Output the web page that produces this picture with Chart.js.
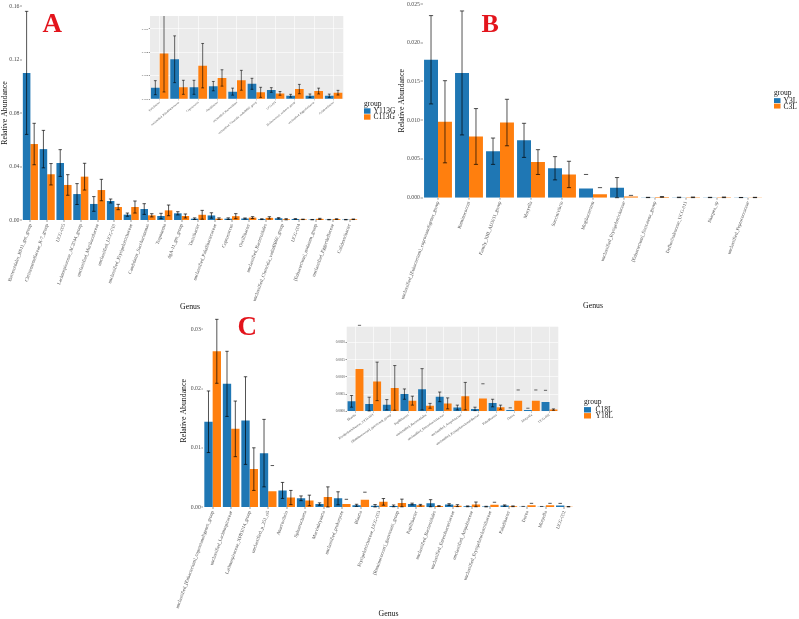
<!DOCTYPE html>
<html>
<head>
<meta charset="utf-8">
<script src="https://cdn.jsdelivr.net/npm/chart.js@4.4.0/dist/chart.umd.min.js"></script>
<style>
html,body{margin:0;padding:0;background:#fff;width:799px;height:619px;overflow:hidden;}
canvas{position:absolute;left:0;top:0;}
</style>
</head>
<body>
<canvas id="cA" width="799" height="619"></canvas>
<canvas id="cB" width="799" height="619"></canvas>
<canvas id="cC" width="799" height="619"></canvas>
<canvas id="cAi" width="799" height="619"></canvas>
<canvas id="cCi" width="799" height="619"></canvas>
<script>
// ---------------- DATA ----------------
// Panel A
const genusA = ["Bacteroidales_BS11_gut_group","Christensenellaceae_R-7_group","UCG-005","Lachnospiraceae_AC2044_group","unclassified_Muribaculaceae","unclassified_UCG-010","unclassified_Erysipelotrichaceae","Candidatus_Saccharimonas","Treponema","dgA-11_gut_group","Turicibacter","unclassified_Paludibacteraceae","Coprococcus","Oscillibacter","unclassified_Bacteroidales","unclassified_Clostridia_vadinBB60_group","UCG-004","[Eubacterium]_nodatum_group","unclassified_Eggerthellaceae","Colidextribacter"];
const groupsA = ["Y113G","C113G"];
const Y113G = [0.110,0.053,0.0426,0.0194,0.012,0.0142,0.004,0.0082,0.003,0.005,0.00097,0.0034,0.001,0.0011,0.00063,0.0013,0.00077,0.00028,0.00028,0.00028];
const Y113G_sd = [0.046,0.014,0.010,0.0078,0.0055,0.0015,0.0012,0.004,0.002,0.0012,0.0006,0.002,0.0006,0.0004,0.0003,0.00047,0.0002,0.00012,0.00015,0.00014];
const C113G = [0.0568,0.0342,0.0262,0.0324,0.0224,0.0097,0.0097,0.0035,0.0072,0.003,0.0039,0.001,0.00285,0.0018,0.0016,0.00057,0.00048,0.00085,0.00068,0.00054];
const C113G_sd = [0.0155,0.008,0.0077,0.010,0.008,0.002,0.0045,0.0012,0.004,0.0015,0.0033,0.0006,0.0019,0.0007,0.00085,0.00043,0.00016,0.0004,0.00025,0.0002];
const ticksA = [0,0.04,0.08,0.12,0.16];
const insetStartA = 10;
const ticksAinset = [0,0.002,0.004,0.006];

// Panel B
const genusB = ["unclassified_[Eubacterium]_coprostanoligenes_group","Ruminococcus","Family_XIII_AD3011_group","Moryella","Succinivibrio","Mogibacterium","unclassified_Erysipelotrichaceae","[Eubacterium]_fissicatena_group","Defluviitaleaceae_UCG-011","Sharpea_sp","unclassified_Peptococcaceae"];
const groupsB = ["Y3L","C3L"];
const Y3L = [0.0178,0.0161,0.0060,0.0074,0.0038,0.0012,0.0013,0.00003,0.00004,0.00003,0.00002];
const Y3L_sd = [0.0057,0.0080,0.0017,0.0022,0.0015,0,0.0013,0.00002,0.00003,0.00002,0.00001];
const Y3L_cap = [null,null,null,null,null,0.0030,null,null,null,null,null];
const C3L = [0.0098,0.0079,0.0097,0.0046,0.0030,0.00043,0.00017,0.0001,0.00005,0.00005,0.00003];
const C3L_sd = [0.0053,0.0036,0.0030,0.0016,0.0017,0,0,0.00005,0.00004,0.00004,0.00002];
const C3L_cap = [null,null,null,null,null,0.0013,0.0003,null,null,null,null];
const ticksB = [0,0.005,0.010,0.015,0.020,0.025];

// Panel C
const genusC = ["unclassified_[Eubacterium]_coprostanoligenes_group","unclassified_Lachnospiraceae","Lachnospiraceae_XPB1014_group","unclassified_p_251_o5","Anaerovibrio","Sphaerochaeta","Marvinbryantia","unclassified_prokaryote","Blautia","Erysipelotrichaceae_UCG-003","[Ruminococcus]_gauvreauii_group","Papillibacter","unclassified_Bacteroidales","unclassified_Enterobacteriaceae","unclassified_Atopobiaceae","unclassified_Erysipelatoclostridiaceae","Paludibacter","Dorea","Moryella","UCG-002"];
const groupsC = ["C18L","Y18L"];
const C18L = [0.0144,0.0208,0.0146,0.0091,0.0028,0.00147,0.0005,0.00147,0.00029,0.00021,0.00019,0.0005,0.00064,0.00042,0.00011,0.00007,0.00024,0.00004,0.00004,0.00027];
const C18L_sd = [0.0052,0.0055,0.0074,0.0057,0.00135,0.0004,0.0002,0.0011,0.00017,0.0002,0.00015,0.00015,0.0006,0.00014,0.00007,0.00005,0.00011,0,0,0];
const C18L_cap = [null,null,null,null,null,null,null,null,null,null,null,null,null,null,null,null,null,0.0001,0.00009,0.00061];
const Y18L = [0.0263,0.0132,0.0064,0.00265,0.0016,0.0011,0.0017,0.0005,0.00123,0.00087,0.00068,0.00031,0.00016,0.00023,0.00044,0.00037,0.00012,0.00031,0.00031,0.00005];
const Y18L_sd = [0.0054,0.0047,0.0036,0,0.0012,0.0009,0.0017,0,0,0.00056,0.00065,0.00013,0.00007,0.00016,0.0004,0,0.00006,0,0,0.00002];
const Y18L_cap = [null,null,null,0.0070,null,null,null,0.0013,0.0025,null,null,null,null,null,null,0.0008,null,0.00062,0.00062,null];
const ticksC = [0,0.01,0.02,0.03];
const insetStartC = 8;
const ticksCinset = [0,0.0005,0.0010,0.0015,0.0020];

// ---------------- STYLE ----------------
const FONT = "'Liberation Serif', 'Times New Roman', serif";
const BLUE = '#1f77b4', ORANGE = '#ff7f0e';
const W = 799, H = 619;

// ---------------- PLUGINS ----------------
const panelBg = {
  id: 'panelBg',
  beforeDraw(chart, args, o) {
    if (!o || !o.color) return;
    const a = chart.chartArea, ctx = chart.ctx;
    ctx.save(); ctx.fillStyle = o.color;
    ctx.fillRect(a.left, a.top, a.right - a.left, a.bottom - a.top);
    ctx.restore();
  }
};
const errBars = {
  id: 'errBars',
  afterDatasetsDraw(chart, args, o) {
    const ctx = chart.ctx, ys = chart.scales.y, a = chart.chartArea;
    ctx.save();
    if (o.clip) { ctx.beginPath(); ctx.rect(a.left, a.top, a.right - a.left, a.bottom - a.top); ctx.clip(); }
    ctx.strokeStyle = o.color; ctx.lineWidth = o.width;
    const hw = o.cap / 2;
    chart.data.datasets.forEach((ds, i) => {
      const meta = chart.getDatasetMeta(i);
      meta.data.forEach((bar, j) => {
        const v = ds.data[j];
        const e = ds.errors ? ds.errors[j] : 0;
        const x = bar.x;
        if (e) {
          const yt = ys.getPixelForValue(v + e);
          const yb = ys.getPixelForValue(Math.max(v - e, 0));
          ctx.beginPath();
          ctx.moveTo(x, yt); ctx.lineTo(x, yb);
          ctx.moveTo(x - hw, yt); ctx.lineTo(x + hw, yt);
          ctx.moveTo(x - hw, yb); ctx.lineTo(x + hw, yb);
          ctx.stroke();
        }
        const c = ds.caps ? ds.caps[j] : null;
        if (c != null) {
          const yc = ys.getPixelForValue(c);
          ctx.beginPath(); ctx.moveTo(x - hw, yc); ctx.lineTo(x + hw, yc); ctx.stroke();
        }
      });
    });
    ctx.restore();
  }
};
const ggLegend = {
  id: 'ggLegend',
  afterDraw(chart, args, o) {
    if (!o || !o.display) return;
    const ctx = chart.ctx, a = chart.chartArea;
    const n = chart.data.datasets.length;
    const x = a.right + o.dx;
    const cy = (a.top + a.bottom) / 2 + o.dy;
    const y0 = cy - n * o.keyH / 2;
    ctx.save();
    ctx.font = o.size + 'px ' + FONT;
    ctx.fillStyle = '#111';
    ctx.textAlign = 'left'; ctx.textBaseline = 'alphabetic';
    ctx.fillText(o.title, x, y0 - o.titleGap);
    ctx.textBaseline = 'middle';
    chart.data.datasets.forEach((ds, i) => {
      ctx.fillStyle = ds.backgroundColor;
      ctx.fillRect(x, y0 + i * o.keyH + 0.3, o.keyW, o.keyH - 0.6);
      ctx.fillStyle = '#111';
      ctx.fillText(ds.label, x + o.keyW + o.textGap, y0 + (i + 0.5) * o.keyH + 0.5);
    });
    ctx.restore();
  }
};
const panelLetter = {
  id: 'panelLetter',
  afterDraw(chart, args, o) {
    if (!o || !o.text) return;
    const ctx = chart.ctx;
    ctx.save();
    ctx.font = 'bold ' + o.size + 'px ' + FONT;
    ctx.fillStyle = o.color; ctx.textAlign = 'left'; ctx.textBaseline = 'alphabetic';
    ctx.fillText(o.text, o.x, o.y);
    ctx.restore();
  }
};

// ---------------- BUILDER ----------------
function makeChart(id, g) {
  const dec = g.yDec;
  const tickArr = g.yTicks;
  return new Chart(document.getElementById(id), {
    type: 'bar',
    data: {
      labels: g.labels,
      datasets: g.series.map(s => ({
        label: s.label, data: s.data, errors: s.err, caps: s.caps,
        backgroundColor: s.color, borderWidth: 0,
        categoryPercentage: 0.9, barPercentage: 1.0
      }))
    },
    options: {
      responsive: false, animation: false, events: [],
      layout: { padding: { left: g.area.l - g.yW, right: W - g.area.r, top: g.area.t, bottom: Math.max(0, H - g.area.b - g.xH) } },
      plugins: {
        legend: { display: false }, tooltip: { enabled: false },
        panelBg: { color: g.inset ? '#EBEBEB' : null },
        errBars: { color: 'rgba(0,0,0,0.85)', width: g.errW, cap: g.capW, clip: !!g.clip },
        ggLegend: g.legend || { display: false },
        panelLetter: g.letter || {}
      },
      scales: {
        x: {
          type: 'category', offset: true,
          grid: { display: true, offset: false, drawOnChartArea: !!g.inset, color: '#ffffff', lineWidth: g.inset ? 0.6 : 0,
                  drawTicks: true, tickLength: g.tickLen, tickColor: '#333', tickWidth: 0.5 },
          border: { display: false },
          ticks: { autoSkip: false, minRotation: g.rot, maxRotation: g.rot, padding: g.xPad,
                   font: { family: FONT, size: g.xFont }, color: '#4d4d4d' },
          title: g.xTitle ? { display: true, text: g.xTitle, color: '#111', padding: 0, font: { family: FONT, size: 7.8 } } : { display: false },
          afterFit: s => { s.height = g.xH; }
        },
        y: {
          min: 0, max: g.yMax,
          afterBuildTicks: s => { s.ticks = tickArr.map(v => ({ value: v })); },
          grid: { display: true, drawOnChartArea: !!g.inset, color: '#ffffff', lineWidth: g.inset ? 0.6 : 0,
                  drawTicks: true, tickLength: g.tickLen, tickColor: '#333', tickWidth: 0.5 },
          border: { display: false },
          ticks: { padding: g.yPad, font: { family: FONT, size: g.yFont }, color: '#4d4d4d',
                   callback: v => Number(v).toFixed(dec) },
          title: g.yTitle ? { display: true, text: g.yTitle, color: '#111', padding: 0, font: { family: FONT, size: 7.8 } } : { display: false },
          afterFit: s => { s.width = g.yW; }
        }
      }
    },
    plugins: [panelBg, errBars, ggLegend, panelLetter]
  });
}

// ---------------- CHARTS ----------------
makeChart('cA', {
  labels: genusA,
  series: [
    { label: groupsA[0], data: Y113G, err: Y113G_sd, color: BLUE },
    { label: groupsA[1], data: C113G, err: C113G_sd, color: ORANGE }
  ],
  area: { l: 22, r: 358, t: 6, b: 220 }, yW: 22, xH: 91.7, yMax: 0.16, yTicks: ticksA, yDec: 2,
  rot: 70, xFont: 4.8, yFont: 5.8, xPad: 1, yPad: 0.5, tickLen: 2, errW: 0.8, capW: 3.4,
  xTitle: 'Genus', yTitle: 'Relative Abundance',
  legend: { display: true, title: 'group', dx: 6, dy: 1, keyW: 6.5, keyH: 6, size: 7.5, titleGap: 2.5, textGap: 3 },
  letter: { text: 'A', x: 42.5, y: 32, size: 27, color: '#e3141c' }
});
makeChart('cB', {
  labels: genusB,
  series: [
    { label: groupsB[0], data: Y3L, err: Y3L_sd, caps: Y3L_cap, color: BLUE },
    { label: groupsB[1], data: C3L, err: C3L_sd, caps: C3L_cap, color: ORANGE }
  ],
  area: { l: 422.5, r: 763.5, t: 3.3, b: 197.7 }, yW: 25, xH: 113, yMax: 0.025, yTicks: ticksB, yDec: 3,
  rot: 70, xFont: 4.8, yFont: 5.8, xPad: 1, yPad: 0.5, tickLen: 2, errW: 0.8, capW: 4.2,
  xTitle: 'Genus', yTitle: 'Relative Abundance',
  legend: { display: true, title: 'group', dx: 10.5, dy: 2.5, keyW: 6.5, keyH: 5.5, size: 7.5, titleGap: 2.5, textGap: 3 },
  letter: { text: 'B', x: 481.5, y: 32, size: 26, color: '#e3141c' }
});
makeChart('cC', {
  labels: genusC,
  series: [
    { label: groupsC[0], data: C18L, err: C18L_sd, caps: C18L_cap, color: BLUE },
    { label: groupsC[1], data: Y18L, err: Y18L_sd, caps: Y18L_cap, color: ORANGE }
  ],
  area: { l: 203.4, r: 573.6, t: 314.6, b: 507 }, yW: 24, xH: 112, yMax: 0.0325, yTicks: ticksC, yDec: 2,
  rot: 70, xFont: 4.8, yFont: 5.8, xPad: 1, yPad: 0.5, tickLen: 2, errW: 0.8, capW: 3.4,
  xTitle: 'Genus', yTitle: 'Relative Abundance',
  legend: { display: true, title: 'group', dx: 10.4, dy: 2, keyW: 7, keyH: 6, size: 7.5, titleGap: 2.5, textGap: 4.5 },
  letter: { text: 'C', x: 237.5, y: 335, size: 27, color: '#e3141c' }
});
makeChart('cAi', {
  labels: genusA.slice(insetStartA),
  series: [
    { label: groupsA[0], data: Y113G.slice(insetStartA), err: Y113G_sd.slice(insetStartA), color: BLUE },
    { label: groupsA[1], data: C113G.slice(insetStartA), err: C113G_sd.slice(insetStartA), color: ORANGE }
  ],
  area: { l: 150, r: 343.3, t: 16, b: 99 }, yW: 10, xH: 35, yMax: 0.0071, yTicks: ticksAinset, yDec: 3,
  rot: 40, xFont: 2.9, yFont: 2.9, xPad: 0.5, yPad: 0.5, tickLen: 1.2, errW: 0.7, capW: 2.8,
  inset: true, clip: true
});
makeChart('cCi', {
  labels: genusC.slice(insetStartC),
  series: [
    { label: groupsC[0], data: C18L.slice(insetStartC), err: C18L_sd.slice(insetStartC), caps: C18L_cap.slice(insetStartC), color: BLUE },
    { label: groupsC[1], data: Y18L.slice(insetStartC), err: Y18L_sd.slice(insetStartC), caps: Y18L_cap.slice(insetStartC), color: ORANGE }
  ],
  area: { l: 346.7, r: 558.3, t: 326.7, b: 411.3 }, yW: 14, xH: 40, yMax: 0.00246, yTicks: ticksCinset, yDec: 4,
  rot: 35, xFont: 3.4, yFont: 3.4, xPad: 0.5, yPad: 0.5, tickLen: 1.2, errW: 0.7, capW: 3.2,
  inset: true, clip: false
});
</script>
</body>
</html>
